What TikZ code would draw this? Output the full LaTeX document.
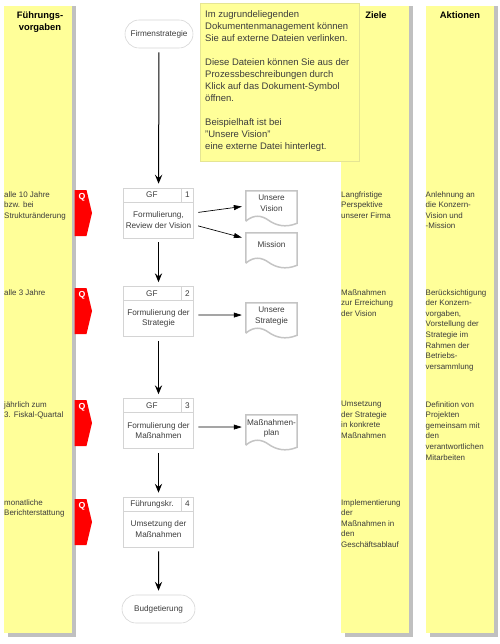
\documentclass[tikz,border=0pt]{standalone}
\usepackage{fontspec}
\setmainfont{Liberation Sans}
\usepackage{tikz}
\usetikzlibrary{arrows.meta,calc,positioning,shapes.misc}

\definecolor{barfill}{HTML}{FFFF99}
\definecolor{barshadow}{HTML}{C0C0C0}
\definecolor{cellline}{HTML}{D4D4D4}
\definecolor{docgray}{HTML}{C4C4C4}
\definecolor{bodytext}{HTML}{3C3C3C}

\tikzset{
    barcol/.style={anchor=north west, fill=barfill, inner sep=0pt,
        minimum width=2.04cm, minimum height=18.81cm},
    barshade/.style={anchor=north west, fill=barshadow, inner sep=0pt,
        minimum width=2.04cm, minimum height=18.93cm},
    barhead/.style={align=center, inner sep=0pt, anchor=north,
        font=\fontsize{8pt}{10.24pt}\selectfont\bfseries},
    bartext/.style={align=left, inner sep=0pt, anchor=north west, text=bodytext,
        font=\fontsize{6.8pt}{9.07pt}\selectfont},
    notebox/.style={anchor=north west, fill=barfill, draw=barfill!80!gray, line width=.3pt,
        inner sep=0pt, minimum width=4.77cm, minimum height=4.74cm},
    notetext/.style={align=left, inner sep=0pt, anchor=north west, text=bodytext,
        font=\fontsize{8.1pt}{10.24pt}\selectfont},
    ovalnode/.style={rounded rectangle, draw=cellline, line width=.5pt, text=bodytext,
        font=\fontsize{7pt}{9pt}\selectfont, inner sep=0pt, minimum height=.84cm},
    stepbox/.style={draw=cellline, line width=.5pt, inner sep=0pt,
        minimum width=2.1cm, minimum height=1.5cm},
    numcell/.style={draw=cellline, line width=.5pt, inner sep=0pt, anchor=north east, text=bodytext,
        font=\fontsize{7pt}{9pt}\selectfont, minimum width=.36cm, minimum height=.42cm},
    rolecell/.style={draw=cellline, line width=.5pt, inner sep=0pt, text=bodytext,
        font=\fontsize{7pt}{9pt}\selectfont, minimum width=1.74cm, minimum height=.42cm},
    bodycell/.style={align=center, inner sep=0pt, anchor=south, text=bodytext,
        font=\fontsize{7pt}{9.07pt}\selectfont, minimum width=2.1cm, minimum height=1.08cm},
    docbox/.style={inner sep=0pt, minimum width=1.53cm, minimum height=.99cm},
    doctext/.style={align=center, inner sep=0pt, anchor=north, text=bodytext, yshift=-3.5pt,
        font=\fontsize{7pt}{9.07pt}\selectfont},
    docline/.style={draw=docgray, line width=.45mm},
    flowarrow/.style={-{Stealth[length=2.7mm,width=2.2mm,inset=1mm]}, line width=.3mm, shorten <=1.2mm, shorten >=1.2mm},
    sidearrow/.style={-{Stealth[length=2.4mm,width=1.5mm,inset=0pt]}, line width=.2mm, shorten <=1.35mm, shorten >=1.2mm},
    qflag/.pic={
        \fill[red] (0,0) -- (12,0) -- (17.5,23) -- (12,46) -- (0,46) -- cycle;
        \node[text=white, inner sep=0pt, font=\fontsize{7.5pt}{8pt}\selectfont\bfseries] (-q) at (7.5,7) {Q};
    }
}

\newcommand{\docoutline}[1]{%
    \draw[docline]
        ($(#1.south west)+(0,-3)$) -- (#1.north west) -- (#1.north east) -- ($(#1.south east)+(0,-1)$)
        .. controls +(-12,5) and +(7,5) .. ($(#1.south)+(-3,-4)$)
        .. controls +(-7,-5) and +(8,-7) .. ($(#1.south west)+(0,-3)$);
}

\begin{document}
\begin{tikzpicture}[x=.3mm, y=-.3mm]
\useasboundingbox (0,0) rectangle (500,644);

% Columns
\node[barshade] (leads) at (8,6) {};
\node[barshade] (goalss) at (345,6) {};
\node[barshade] (actss) at (429.5,6) {};
\node[barcol] (lead) at (4,6) {};
\node[barcol] (goals) at (341,6) {};
\node[barcol] (acts) at (425.5,6) {};

\node[barhead] (leadh) at (40,11) {Führungs-\\vorgaben};
\node[barhead] (goalsh) at (376,11) {Ziele};
\node[barhead] (actsh) at (460,11) {Aktionen};

% Note
\node[notebox] (note) at (200,3) {};
\node[notetext] (notet) at ([xshift=1.5mm,yshift=-2.2mm]note.north west)
    {Im zugrundeliegenden\\
     Dokumentenmanagement können\\
     Sie auf externe Dateien verlinken.\\[10.24pt]
     Diese Dateien können Sie aus der\\
     Prozessbeschreibungen durch\\
     Klick auf das Dokument-Symbol\\
     öffnen.\\[10.24pt]
     Beispielhaft ist bei\\
     "Unsere Vision"\\
     eine externe Datei hinterlegt.};

% Left column texts
\node[bartext] (lead1) at (4,191) {alle 10 Jahre\\bzw. bei\\Strukturänderung};
\node[bartext] (lead2) at (4,289) {alle 3 Jahre};
\node[bartext] (lead3) at (4,401) {jährlich zum\\3. Fiskal-Quartal};
\node[bartext] (lead4) at (4,499) {monatliche\\Berichterstattung};

% Goals
\node[bartext] (goal1) at (341,191) {Langfristige\\Perspektive\\unserer Firma};
\node[bartext] (goal2) at (341,289) {Maßnahmen\\zur Erreichung\\der Vision};
\node[bartext] (goal3) at (341,401) {Umsetzung\\der Strategie\\in konkrete\\Maßnahmen};
\node[bartext] (goal4) at (341,499) {Implementierung\\der\\Maßnahmen in\\den\\Geschäftsablauf};

% Actions
\node[bartext] (act1) at (425.5,191) {Anlehnung an\\die Konzern-\\Vision und\\-Mission};
\node[bartext] (act2) at (425.5,289) {Berücksichtigung\\der Konzern-\\vorgaben,\\Vorstellung der\\Strategie im\\Rahmen der\\Betriebs-\\versammlung};
\node[bartext] (act3) at (425.5,401) {Definition von\\Projekten\\gemeinsam mit\\den\\verantwortlichen\\Mitarbeiten};

% Q flags
\pic (q1) at (74.5,190) {qflag};
\pic (q2) at (74.5,288) {qflag};
\pic (q3) at (74.5,400) {qflag};
\pic (q4) at (74.5,499) {qflag};

% Start and end
\node[ovalnode, minimum width=2.04cm] (start) at (159,34) {Firmenstrategie};
\node[ovalnode, minimum width=2.19cm] (stop) at (158.5,609) {Budgetierung};

% Process steps
\node[stepbox] (box1) at (158.5,213) {};
\node[numcell] (num1) at (box1.north east) {1};
\node[rolecell, left=0pt of num1] (role1) {GF};
\node[bodycell] (body1) at (box1.south) {Formulierung,\\Review der Vision};

\node[stepbox] (box2) at (158.5,311.5) {};
\node[numcell] (num2) at (box2.north east) {2};
\node[rolecell, left=0pt of num2] (role2) {GF};
\node[bodycell] (body2) at (box2.south) {Formulierung der\\Strategie};

\node[stepbox] (box3) at (158.5,423.5) {};
\node[numcell] (num3) at (box3.north east) {3};
\node[rolecell, left=0pt of num3] (role3) {GF};
\node[bodycell] (body3) at (box3.south) {Formulierung der\\Maßnahmen};

\node[stepbox] (box4) at (158.5,522) {};
\node[numcell] (num4) at (box4.north east) {4};
\node[rolecell, left=0pt of num4] (role4) {Führungskr.};
\node[bodycell] (body4) at (box4.south) {Umsetzung der\\Maßnahmen};

% Documents
\node[docbox] (docvis) at (271.5,207.5) {};
\docoutline{docvis}
\node[doctext] (docvist) at (docvis.north) {Unsere\\Vision};

\node[docbox] (docmis) at (271.5,249.5) {};
\docoutline{docmis}
\node[doctext, yshift=-4pt] (docmist) at (docmis.north) {Mission};

\node[docbox] (docstr) at (271.5,319.5) {};
\docoutline{docstr}
\node[doctext] (docstrt) at (docstr.north) {Unsere\\Strategie};

\node[docbox] (docplan) at (271.5,431.5) {};
\docoutline{docplan}
\node[doctext] (docplant) at (docplan.north) {Maßnahmen-\\plan};

% Flow
\draw[flowarrow] (start) -- (box1);
\draw[flowarrow] (box1) -- (box2);
\draw[flowarrow] (box2) -- (box3);
\draw[flowarrow] (box3) -- (box4);
\draw[flowarrow] (box4) -- (stop);

% Outputs
\draw[sidearrow] (box1.east) -- ([yshift=1.3pt]docvis.west);
\draw[sidearrow] ([yshift=-10pt]box1.east) -- ([yshift=-5pt]docmis.north west);
\draw[sidearrow] ([yshift=-3pt]box2.east) -- ([yshift=3.8pt]docstr.west);
\draw[sidearrow] ([yshift=-3pt]box3.east) -- ([yshift=3.8pt]docplan.west);

\end{tikzpicture}
\end{document}
